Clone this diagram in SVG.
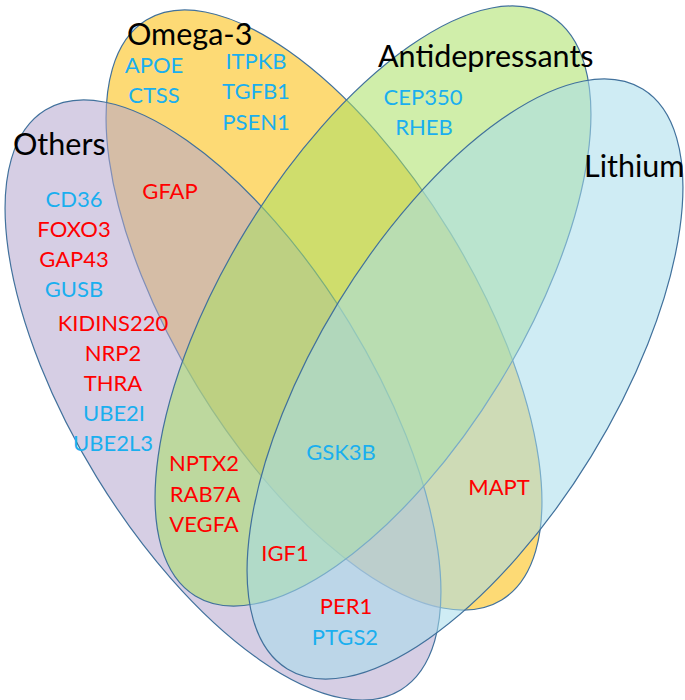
<svg xmlns="http://www.w3.org/2000/svg" width="685" height="700" viewBox="0 0 685 700">
<style>
.set{stroke:#41719C;stroke-width:1.2;fill-opacity:0.55}
.title{font-family:Lato,"Noto Sans",sans-serif;font-size:30.5px;fill:#000}
.g{font-family:Lato,"Noto Sans",sans-serif;font-size:22px;text-anchor:middle}
.b{fill:#1AAFEF}
.r{fill:#FF0000}
</style>
<rect width="685" height="700" fill="#fff"/>
<g id="omega3"><ellipse class="set" cx="324" cy="310" rx="148" ry="340" transform="rotate(-31.5 324 310)" fill="#FBBC04"/></g>
<g id="others"><ellipse class="set" cx="223" cy="400" rx="148" ry="340" transform="rotate(-31.5 223 400)" fill="#B4A6CE"/></g>
<g id="antidepressants"><ellipse class="set" cx="373" cy="306" rx="148" ry="340" transform="rotate(31.5 373 306)" fill="#A9E064"/></g>
<g id="lithium"><ellipse class="set" cx="465" cy="379" rx="148" ry="340" transform="rotate(31.5 465 379)" fill="#A8DCEB"/></g>
<g id="labels">
<text class="title" x="127" y="45">Omega-3</text>
<text class="title" x="378" y="67">Antidepressants</text>
<text class="title" x="13" y="155">Others</text>
<text class="title" x="584" y="177">Lithium</text>
<text class="g b" x="154" y="73">APOE</text>
<text class="g b" x="154" y="103">CTSS</text>
<text class="g b" x="256" y="69">ITPKB</text>
<text class="g b" x="256" y="99">TGFB1</text>
<text class="g b" x="256" y="130">PSEN1</text>
<text class="g b" x="423" y="105">CEP350</text>
<text class="g b" x="424" y="135">RHEB</text>
<text class="g r" x="170" y="199">GFAP</text>
<text class="g b" x="74" y="207">CD36</text>
<text class="g r" x="74" y="237">FOXO3</text>
<text class="g r" x="74" y="267">GAP43</text>
<text class="g b" x="74" y="297">GUSB</text>
<text class="g r" x="113" y="331">KIDINS220</text>
<text class="g r" x="113" y="361">NRP2</text>
<text class="g r" x="113" y="391">THRA</text>
<text class="g b" x="114" y="421">UBE2I</text>
<text class="g b" x="113" y="451">UBE2L3</text>
<text class="g r" x="204" y="471">NPTX2</text>
<text class="g r" x="205" y="502">RAB7A</text>
<text class="g r" x="204" y="532">VEGFA</text>
<text class="g b" x="341" y="460">GSK3B</text>
<text class="g r" x="499" y="495">MAPT</text>
<text class="g r" x="285" y="561">IGF1</text>
<text class="g r" x="346" y="614">PER1</text>
<text class="g b" x="345" y="645">PTGS2</text>
</g>
</svg>
